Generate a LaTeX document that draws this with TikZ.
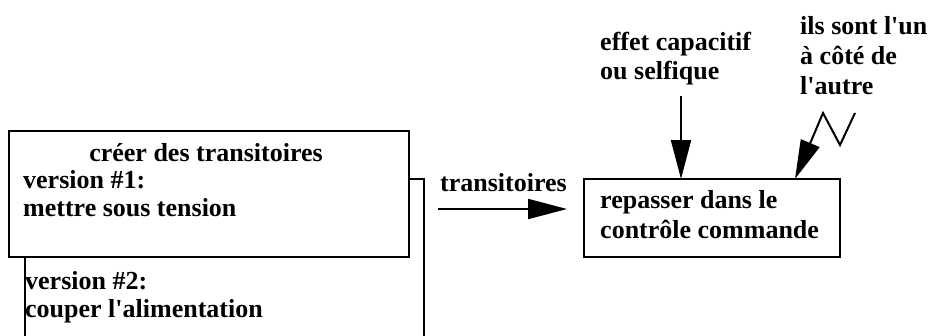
\documentclass[tikz,border=0pt]{standalone}
\usepackage{fontspec}
\setmainfont{Liberation Serif}[Ligatures=TeXOff]
\usetikzlibrary{positioning,arrows.meta}

\begin{document}
\begin{tikzpicture}[
    x=1pt, y=-1pt,
    every node/.style={font=\bfseries\fontsize{26}{28}\selectfont},
    box/.style={draw, line width=2.2pt, inner sep=0pt, outer sep=0pt, anchor=north west},
    lbl/.style={align=left, inner sep=0pt, anchor=base west},
    arr/.style={-{Triangle[length=39pt, width=20pt]}, line width=2pt}
]
\useasboundingbox (0,0) rectangle (939,335);
\clip (0,0) rectangle (939,335);

% boxes
\node[box, minimum width=399pt, minimum height=170pt] (back) at (25,179) {};
\node[box, fill=white, minimum width=400pt, minimum height=126pt] (front) at (9,131) {};
\node[box, minimum width=256pt, minimum height=78pt] (ctrl) at (584,179) {};

% texts (base = last line)
\node[lbl, anchor=base] (titre) at (206,161) {créer des transitoires};
\node[lbl] (v1) at (23,216) {version \#1:\\mettre sous tension};
\node[lbl] (v2) at (25,317) {version \#2:\\couper l'alimentation};
\node[lbl] (trlbl) at (440,191) {transitoires};
\node[lbl, font=\bfseries\fontsize{26}{30}\selectfont] (repasser) at (600,238) {repasser dans le\\contrôle commande};
\node[lbl, font=\bfseries\fontsize{26}{29}\selectfont] (effet) at (600,79) {effet capacitif\\ou selfique};
\node[lbl, font=\bfseries\fontsize{26}{30}\selectfont] (ils) at (800,94) {ils sont l'un\\à côté de\\l'autre};

% arrows
\coordinate (trsrc) at (438,209);
\coordinate (effsrc) at (681,96);
\coordinate (zz) at (855,113);
\draw[arr] (trsrc) -- ([xshift=-17pt]ctrl.west |- trsrc);
\draw[arr] (effsrc) -- (effsrc |- ctrl.north);
\draw[arr] (zz) -- ++(-15,32) -- ++(-17,-32) -- ([xshift=211pt]ctrl.north west);
\end{tikzpicture}
\end{document}
